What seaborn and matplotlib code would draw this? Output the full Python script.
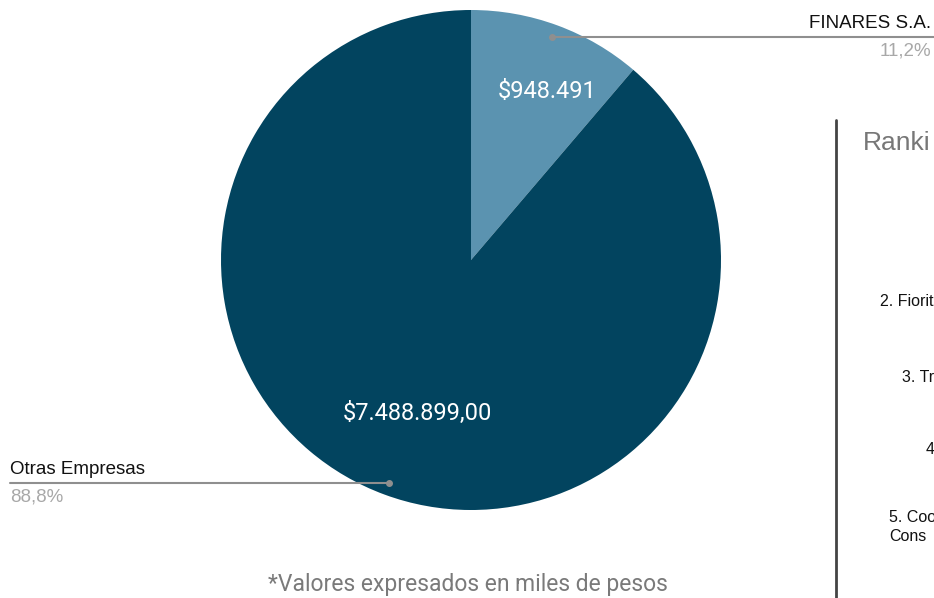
import numpy as np
import matplotlib.pyplot as plt
import seaborn as sns

# Data
empresas = ['FINARES S.A.', 'Otras Empresas']
valores = [948491, 7488899]
etiquetas_valor = ['$948.491', '$7.488.899,00']
porcentajes = ['11,2%', '88,8%']
colores = ['#5B93B0', '#02445F']

ranking_labels = ['2. Fiorit', '3. Tr', '4', '5. Coo\nCons']

sns.set_theme(style='white')
plt.rcParams['font.family'] = ['Liberation Sans', 'DejaVu Sans']

fig = plt.figure(figsize=(9.34, 5.98), dpi=100)
ax = fig.add_axes([0, 0, 1, 1])

H = 598
cx, cy, r = 471, H - 260, 250
wedges, _ = ax.pie(valores, colors=colores, center=(cx, cy), radius=r,
                   startangle=90, counterclock=False,
                   wedgeprops=dict(linewidth=0))
ax.set_xlim(0, 934)
ax.set_ylim(0, 598)
ax.set_aspect('equal')
ax.axis('off')

# value labels inside the slices
ax.text(547, H - 92, etiquetas_valor[0], color='white', fontsize=17,
        family='Roboto', ha='center', va='center')
ax.text(417, H - 413, etiquetas_valor[1], color='white', fontsize=17,
        family='Roboto', ha='center', va='center')

# leader lines
line_col = '#8f8f8f'
ax.plot([552, 934], [H - 37, H - 37], color=line_col, lw=1.5)
ax.plot(552, H - 37, 'o', color=line_col, ms=4)
ax.text(931, H - 23, empresas[0], fontsize=13.5, color='#111111', ha='right', va='center')
ax.text(931, H - 51, porcentajes[0], fontsize=13.5, color='#a8a8a8', ha='right', va='center')

ax.plot([10, 389], [H - 483, H - 483], color=line_col, lw=1.5)
ax.plot(389, H - 483, 'o', color=line_col, ms=4)
ax.text(10, H - 469, empresas[1], fontsize=13.5, color='#111111', ha='left', va='center')
ax.text(10, H - 497, porcentajes[1], fontsize=13.5, color='#a8a8a8', ha='left', va='center')

# footnote
ax.text(468, H - 584, '*Valores expresados en miles de pesos', fontsize=16.5,
        family='Roboto', color='#7a7a7a', ha='center', va='center')

# right panel (cropped ranking)
ax.plot([836, 836], [0, H - 120], color='#444444', lw=2)
ax.text(863, H - 143, 'Ranki', fontsize=19, color='#777777', ha='left', va='center')
ax.text(880, H - 302, ranking_labels[0], fontsize=11.5, color='#111111', ha='left', va='center')
ax.text(902, H - 378, ranking_labels[1], fontsize=11.5, color='#111111', ha='left', va='center')
ax.text(926, H - 450, ranking_labels[2], fontsize=11.5, color='#111111', ha='left', va='center')
ax.text(889, H - 527, ranking_labels[3], fontsize=11.5, color='#111111', ha='left', va='center',
        linespacing=1.35)

fig.savefig('out.png', dpi=100)
